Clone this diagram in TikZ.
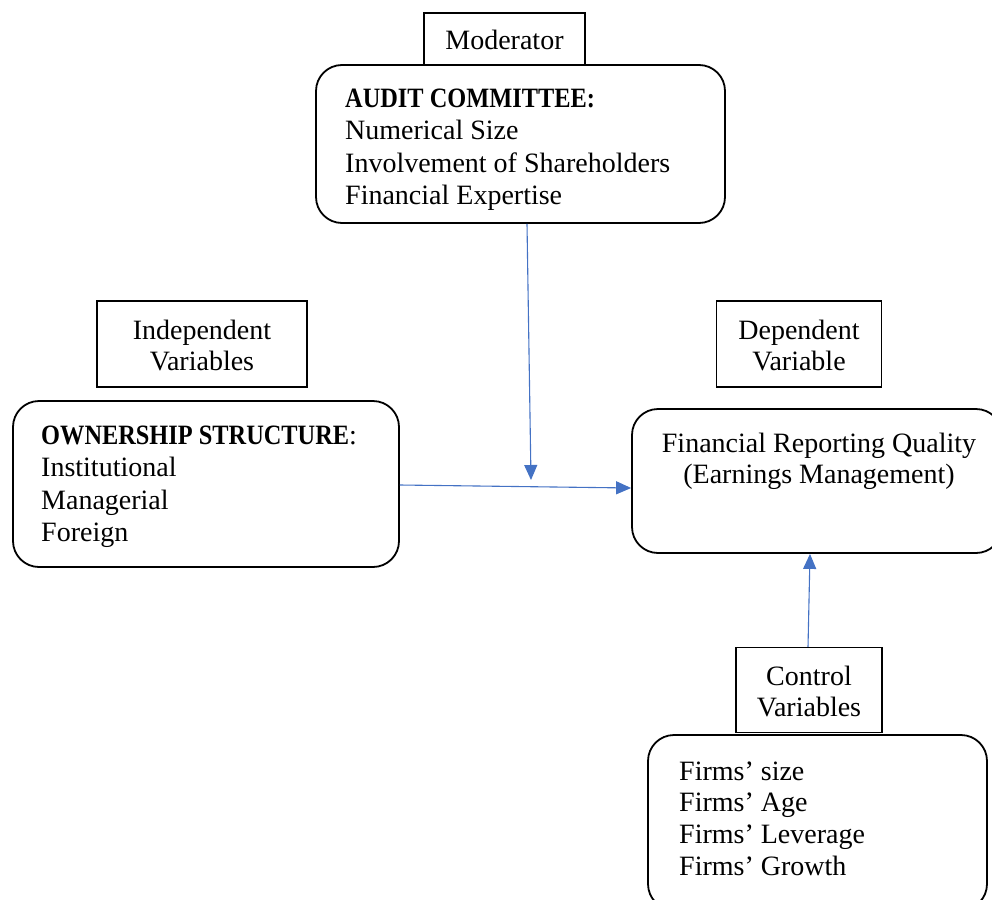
\documentclass[tikz,border=0pt]{standalone}
\usepackage{fontspec}
\usepackage{graphicx}
\setmainfont{Liberation Serif}
\usetikzlibrary{arrows.meta}
\definecolor{arrowblue}{HTML}{4472C4}
\newcommand{\narrowbold}[1]{\scalebox{0.87}[1]{\textbf{#1}}}
\tikzset{
  rbox/.style={draw=black, line width=1.8pt, rounded corners=26pt, inner sep=0pt, fill=none},
  lbox/.style={draw=black, line width=1.1pt, inner sep=0pt, fill=white},
  txt/.style={inner sep=0pt, anchor=base west, font=\fontsize{28}{32.5}\selectfont},
  ctxt/.style={inner sep=0pt, anchor=base, font=\fontsize{28}{31}\selectfont},
  conn/.style={draw=arrowblue, line width=1.1pt, -{Triangle[length=15pt,width=13pt]}}
}
\begin{document}
\begin{tikzpicture}[x=1pt,y=-1pt]
\path[use as bounding box, clip] (0,0) rectangle (992,899);
% boxes
\node[rbox, minimum width=409pt, minimum height=158pt] (audit) at (520.5,144) {};
\node[lbox, minimum width=161pt, minimum height=52pt] (moder) at (504.5,39) {};
\node[rbox, minimum width=386pt, minimum height=166pt] (own) at (206,484) {};
\node[lbox, minimum width=210pt, minimum height=86pt] (indep) at (202,344) {};
\node[rbox, minimum width=370pt, minimum height=144pt] (frq) at (817,481) {};
\node[lbox, minimum width=165pt, minimum height=86pt] (dep) at (799,344) {};
\node[rbox, minimum width=339pt, minimum height=175pt] (firms) at (817.5,822.5) {};
\node[lbox, minimum width=146pt, minimum height=85pt] (ctrl) at (809,690) {};
% texts
\node[ctxt] (modert) at (504.5,49) {Moderator};
\node[txt] (auditt) at (345,107) {\begin{tabular}[t]{@{}l@{}}\narrowbold{AUDIT COMMITTEE:}\\Numerical Size\\Involvement of Shareholders\\Financial Expertise\end{tabular}};
\node[ctxt] (indept) at (202,339) {\begin{tabular}[t]{@{}c@{}}Independent\\Variables\end{tabular}};
\node[txt] (ownt) at (41,444) {\begin{tabular}[t]{@{}l@{}}\narrowbold{OWNERSHIP STRUCTURE}:\\Institutional\\Managerial\\Foreign\end{tabular}};
\node[ctxt] (dept) at (799,339) {\begin{tabular}[t]{@{}c@{}}Dependent\\Variable\end{tabular}};
\node[ctxt] (frqt) at (819,452) {\begin{tabular}[t]{@{}c@{}}Financial Reporting Quality\\(Earnings Management)\end{tabular}};
\node[ctxt] (ctrlt) at (809,685) {\begin{tabular}[t]{@{}c@{}}Control\\Variables\end{tabular}};
\node[txt, font=\fontsize{28}{31.7}\selectfont] (firmst) at (679,780) {\begin{tabular}[t]{@{}l@{}}Firms’ size\\Firms’ Age\\Firms’ Leverage\\Firms’ Growth\end{tabular}};
% connectors
\coordinate (modtip) at (531,480);
\draw[conn] (audit.south -| 527,0) -- (modtip);
\draw[conn] (own.east |- 0,485) -- (frq.west |- 0,488);
\draw[conn] (ctrl.north -| 808,0) -- (frq.south -| 810,0);
\end{tikzpicture}
\end{document}
